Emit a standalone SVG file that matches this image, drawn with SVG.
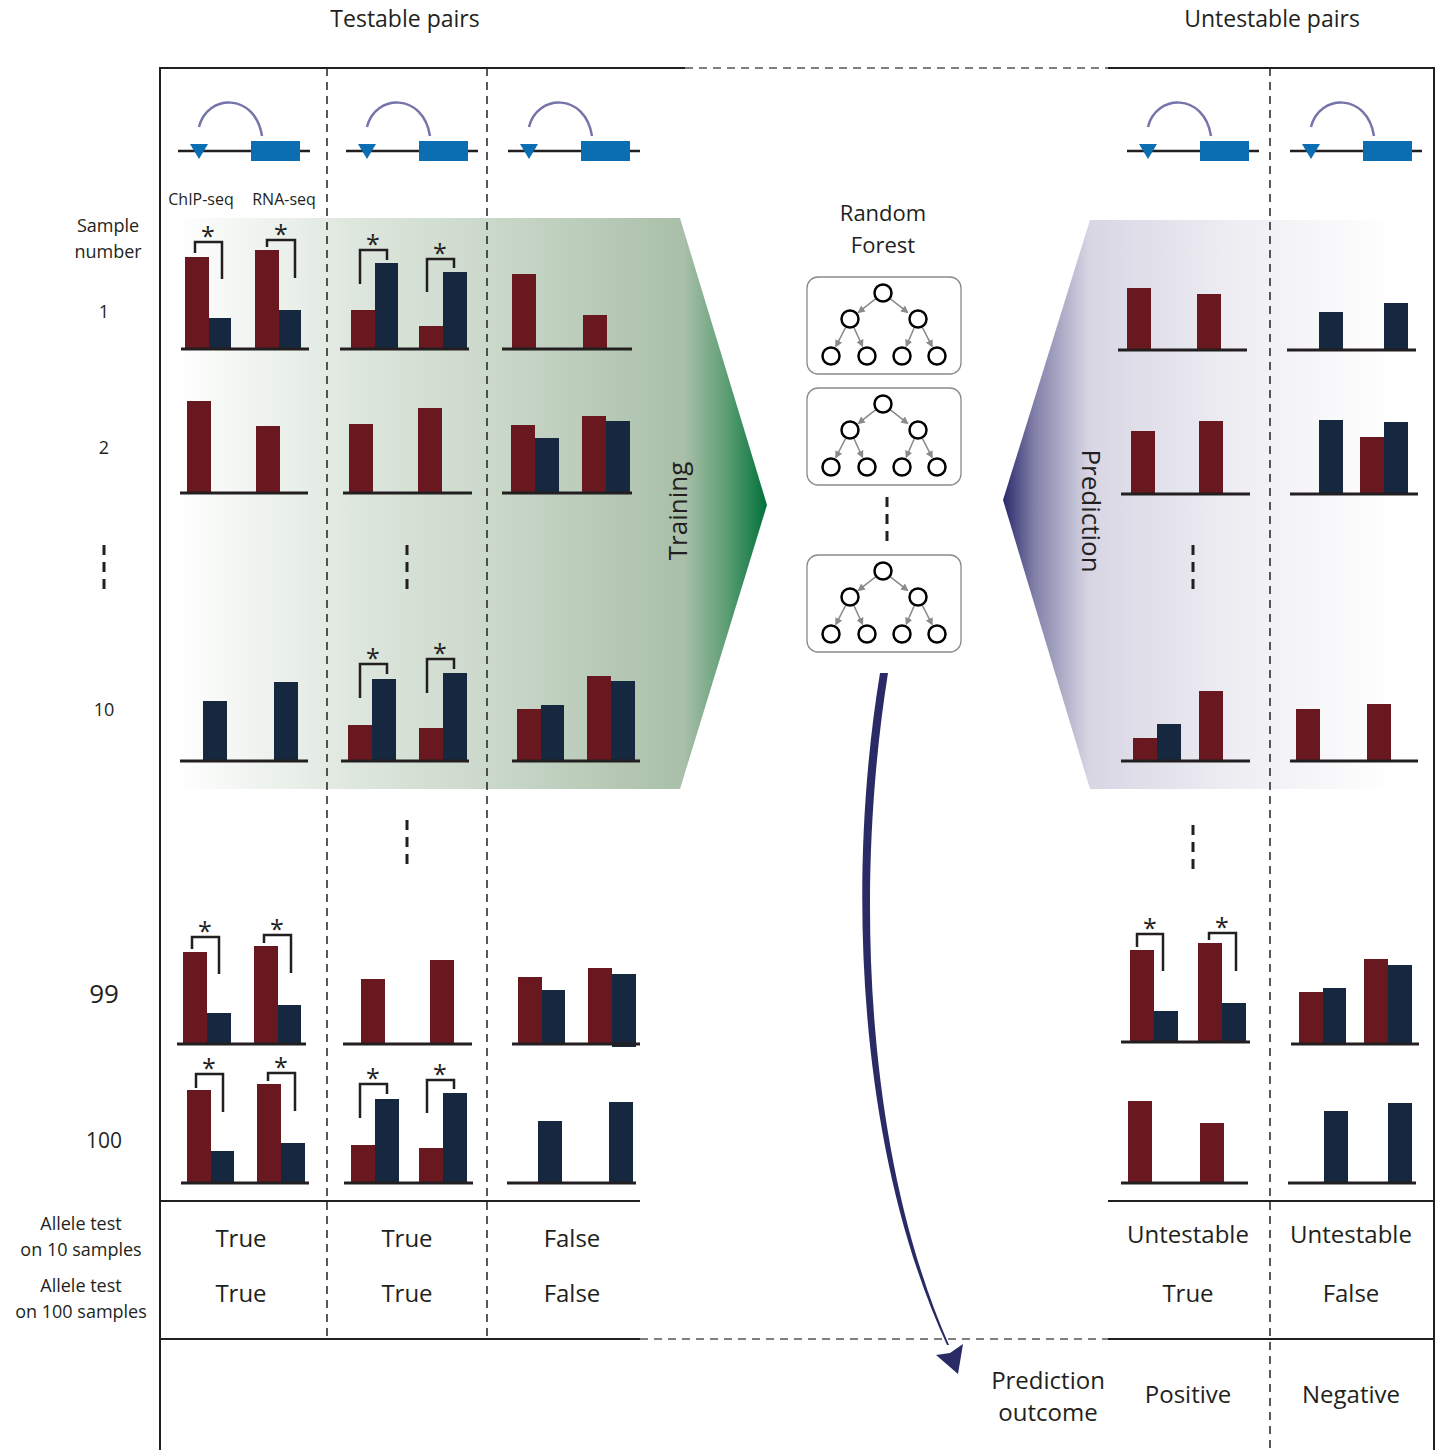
<svg xmlns="http://www.w3.org/2000/svg" xmlns:xlink="http://www.w3.org/1999/xlink" width="1439" height="1450" viewBox="0 0 1439 1450">
<style>
text{font-family:"Open Sans","Liberation Sans",sans-serif;fill:#231f20}
.t{text-anchor:middle}
.r{fill:#6a1820}
.n{fill:#15283f}
.b{stroke:#231f20;stroke-width:3;fill:none}
.k{fill:none;stroke:#231f20;stroke-width:2.5}
.s{font-size:25px;text-anchor:middle}
.fr{stroke:#231f20;stroke-width:2;fill:none}
.dv{stroke:#222;stroke-width:1.5;stroke-dasharray:8 6;fill:none}
.dh{stroke:#555;stroke-width:1.5;stroke-dasharray:8 6;fill:none}
.el{stroke:#231f20;stroke-width:3;stroke-dasharray:10 7;fill:none}
.lbl{font-size:24px;text-anchor:middle}
.sm{font-size:18px;text-anchor:middle}
.tn{fill:#fff;stroke:#000;stroke-width:2.5}
.ta{stroke:#8a8a8a;stroke-width:1.5;fill:none;marker-end:url(#ah)}
</style>
<defs>
<linearGradient id="gG" gradientUnits="userSpaceOnUse" x1="175" y1="0" x2="767" y2="0">
<stop offset="0" stop-color="#ffffff"/>
<stop offset="0.3" stop-color="#dee7de"/>
<stop offset="0.55" stop-color="#c9d7c9"/>
<stop offset="0.86" stop-color="#a9bfa9"/>
<stop offset="0.93" stop-color="#5f9f75"/>
<stop offset="1" stop-color="#00703a"/>
</linearGradient>
<linearGradient id="gP" gradientUnits="userSpaceOnUse" x1="1003" y1="0" x2="1395" y2="0">
<stop offset="0" stop-color="#2a2a6c"/>
<stop offset="0.08" stop-color="#8280a8"/>
<stop offset="0.22" stop-color="#d8d6e4"/>
<stop offset="0.6" stop-color="#eeeef3"/>
<stop offset="1" stop-color="#ffffff"/>
</linearGradient>
<marker id="ah" viewBox="0 0 10 10" refX="8" refY="5" markerWidth="5" markerHeight="5" orient="auto">
<path d="M0,0 L10,5 L0,10 z" fill="#8a8a8a"/>
</marker>
<g id="gene">
<path d="M21,-24 C29,-57 77,-59 84,-15" fill="none" stroke="#7574aa" stroke-width="2.5"/>
<line x1="0" y1="0" x2="132" y2="0" stroke="#231f20" stroke-width="2.5"/>
<polygon points="12,-7 30,-7 21,8" fill="#0b6eb3"/>
<rect x="73" y="-10" width="49" height="20" fill="#0b6eb3"/>
</g>
<g id="tree">
<rect x="0" y="0" width="154" height="97" rx="11" fill="#fff" stroke="#8a8a8a" stroke-width="1.3"/>
<line class="ta" x1="68.9" y1="21.6" x2="51.6" y2="35.2"/>
<line class="ta" x1="83.1" y1="21.6" x2="100.4" y2="35.2"/>
<line class="ta" x1="38.4" y1="50.9" x2="29" y2="69.2"/>
<line class="ta" x1="47.2" y1="51.1" x2="55.4" y2="69"/>
<line class="ta" x1="107" y1="51.2" x2="99.4" y2="68.9"/>
<line class="ta" x1="115.6" y1="50.9" x2="125" y2="69.2"/>
<circle class="tn" cx="76" cy="16" r="8.5"/>
<circle class="tn" cx="43" cy="42" r="8.5"/>
<circle class="tn" cx="111" cy="42" r="8.5"/>
<circle class="tn" cx="24" cy="79" r="8.5"/>
<circle class="tn" cx="60" cy="79" r="8.5"/>
<circle class="tn" cx="95" cy="79" r="8.5"/>
<circle class="tn" cx="130" cy="79" r="8.5"/>
</g>
</defs>
<rect width="1439" height="1450" fill="#fff"/>

<!-- background panels -->
<g id="training">
<polygon points="175,218 680,218 767,505 680,789 175,789" fill="url(#gG)"/>
<text transform="translate(687,511) rotate(-90)" class="t" font-size="26">Training</text>
</g>
<g id="prediction">
<polygon points="1090,220 1395,220 1395,789 1090,789 1003,500" fill="url(#gP)"/>
<text transform="translate(1082,511) rotate(90)" class="t" font-size="26">Prediction</text>
</g>

<!-- frame -->
<g id="frame">
<path class="fr" d="M160,1450 V68 H685"/>
<path class="fr" d="M1108,68 H1434 V1450"/>
<line class="dh" x1="685" y1="68" x2="1108" y2="68"/>
<path class="fr" d="M160,1201 H640 M1108,1201 H1434"/>
<path class="fr" d="M160,1339 H640 M1108,1339 H1434"/>
<line class="dh" x1="640" y1="1339" x2="1108" y2="1339"/>
<line class="dv" x1="327" y1="68" x2="327" y2="1339"/>
<line class="dv" x1="487" y1="68" x2="487" y2="1339"/>
<line class="dv" x1="1270" y1="68" x2="1270" y2="1450"/>
</g>

<!-- headers -->
<g id="headers">
<text x="405" y="27" class="t" font-size="23">Testable pairs</text>
<text x="1272" y="27" class="t" font-size="23">Untestable pairs</text>
<text x="201" y="205" class="t" font-size="16">ChIP-seq</text>
<text x="284" y="205" class="t" font-size="16">RNA-seq</text>
<text x="108" y="232" class="sm">Sample</text>
<text x="108" y="258" class="sm">number</text>
<text x="104" y="318" class="sm">1</text>
<text x="104" y="454" class="sm">2</text>
<line class="el" x1="104" y1="545" x2="104" y2="590"/>
<text x="104" y="716" class="sm" font-size="20">10</text>
<text x="104" y="1003" class="t" font-size="26">99</text>
<text x="104" y="1148" class="t" font-size="21">100</text>
</g>

<!-- gene diagrams -->
<g id="genes">
<use xlink:href="#gene" x="178" y="151"/>
<use xlink:href="#gene" x="346" y="151"/>
<use xlink:href="#gene" x="508" y="151"/>
<use xlink:href="#gene" x="1127" y="151"/>
<use xlink:href="#gene" x="1290" y="151"/>
</g>

<!-- random forest -->
<g id="forest">
<text x="883" y="221" class="t" font-size="22">Random</text>
<text x="883" y="253" class="t" font-size="22">Forest</text>
<use xlink:href="#tree" x="807" y="277"/>
<use xlink:href="#tree" x="807" y="388"/>
<line class="el" x1="887" y1="497" x2="887" y2="542"/>
<use xlink:href="#tree" x="807" y="555"/>
</g>

<!-- ellipses in columns -->
<g id="ellipses">
<line class="el" x1="407" y1="545" x2="407" y2="590"/>
<line class="el" x1="407" y1="820" x2="407" y2="864"/>
<line class="el" x1="1193" y1="545" x2="1193" y2="590"/>
<line class="el" x1="1193" y1="825" x2="1193" y2="869"/>
</g>

<!-- testable column 1 -->
<g id="t1-s1">
<rect class="r" x="185" y="257" width="24" height="92"/><rect class="n" x="209" y="318" width="22" height="31"/>
<rect class="r" x="255" y="250" width="24" height="99"/><rect class="n" x="279" y="310" width="22" height="39"/>
<line class="b" x1="181" y1="349" x2="309" y2="349"/>
<path class="k" d="M195,253 V242 H222 V279"/><text class="s" x="208" y="245">*</text>
<path class="k" d="M267,247 V240 H295 V278"/><text class="s" x="281" y="243">*</text>
</g>
<g id="t1-s2">
<rect class="r" x="187" y="401" width="24" height="92"/><rect class="r" x="256" y="426" width="24" height="67"/>
<line class="b" x1="180" y1="493" x2="308" y2="493"/>
</g>
<g id="t1-s10">
<rect class="n" x="203" y="701" width="24" height="60"/><rect class="n" x="274" y="682" width="24" height="79"/>
<line class="b" x1="180" y1="761" x2="308" y2="761"/>
</g>
<g id="t1-s99">
<rect class="r" x="183" y="952" width="24" height="92"/><rect class="n" x="207" y="1013" width="24" height="31"/>
<rect class="r" x="254" y="946" width="24" height="98"/><rect class="n" x="278" y="1005" width="23" height="39"/>
<line class="b" x1="177" y1="1044" x2="306" y2="1044"/>
<path class="k" d="M192,949 V937 H219 V974"/><text class="s" x="205" y="940">*</text>
<path class="k" d="M264,943 V935 H291 V973"/><text class="s" x="277" y="938">*</text>
</g>
<g id="t1-s100">
<rect class="r" x="187" y="1090" width="24" height="93"/><rect class="n" x="211" y="1151" width="23" height="32"/>
<rect class="r" x="257" y="1084" width="24" height="99"/><rect class="n" x="281" y="1143" width="24" height="40"/>
<line class="b" x1="181" y1="1183" x2="309" y2="1183"/>
<path class="k" d="M196,1088 V1074 H223 V1112"/><text class="s" x="209" y="1077">*</text>
<path class="k" d="M268,1081 V1073 H295 V1111"/><text class="s" x="281" y="1076">*</text>
</g>

<!-- testable column 2 -->
<g id="t2-s1">
<rect class="r" x="351" y="310" width="24" height="39"/><rect class="n" x="375" y="263" width="23" height="86"/>
<rect class="r" x="419" y="326" width="24" height="23"/><rect class="n" x="443" y="272" width="24" height="77"/>
<line class="b" x1="340" y1="349" x2="469" y2="349"/>
<path class="k" d="M360,284 V250 H387 V260"/><text class="s" x="373" y="253">*</text>
<path class="k" d="M427,292 V259 H454 V268"/><text class="s" x="440" y="262">*</text>
</g>
<g id="t2-s2">
<rect class="r" x="349" y="424" width="24" height="69"/><rect class="r" x="418" y="408" width="24" height="85"/>
<line class="b" x1="343" y1="493" x2="472" y2="493"/>
</g>
<g id="t2-s10">
<rect class="r" x="348" y="725" width="24" height="36"/><rect class="n" x="372" y="679" width="24" height="82"/>
<rect class="r" x="419" y="728" width="24" height="33"/><rect class="n" x="443" y="673" width="24" height="88"/>
<line class="b" x1="341" y1="761" x2="469" y2="761"/>
<path class="k" d="M360,698 V664 H387 V674"/><text class="s" x="373" y="667">*</text>
<path class="k" d="M427,693 V659 H454 V669"/><text class="s" x="440" y="662">*</text>
</g>
<g id="t2-s99">
<rect class="r" x="361" y="979" width="24" height="65"/><rect class="r" x="430" y="960" width="24" height="84"/>
<line class="b" x1="343" y1="1044" x2="472" y2="1044"/>
</g>
<g id="t2-s100">
<rect class="r" x="351" y="1145" width="24" height="38"/><rect class="n" x="375" y="1099" width="24" height="84"/>
<rect class="r" x="419" y="1148" width="24" height="35"/><rect class="n" x="443" y="1093" width="24" height="90"/>
<line class="b" x1="344" y1="1183" x2="473" y2="1183"/>
<path class="k" d="M360,1118 V1084 H387 V1094"/><text class="s" x="373" y="1087">*</text>
<path class="k" d="M427,1113 V1080 H454 V1089"/><text class="s" x="440" y="1083">*</text>
</g>

<!-- testable column 3 -->
<g id="t3-s1">
<rect class="r" x="512" y="274" width="24" height="75"/><rect class="r" x="583" y="315" width="24" height="34"/>
<line class="b" x1="502" y1="349" x2="632" y2="349"/>
</g>
<g id="t3-s2">
<rect class="r" x="511" y="425" width="24" height="68"/><rect class="n" x="535" y="438" width="24" height="55"/>
<rect class="r" x="582" y="416" width="24" height="77"/><rect class="n" x="606" y="421" width="24" height="72"/>
<line class="b" x1="502" y1="493" x2="632" y2="493"/>
</g>
<g id="t3-s10">
<rect class="r" x="517" y="709" width="24" height="52"/><rect class="n" x="541" y="705" width="23" height="56"/>
<rect class="r" x="587" y="676" width="24" height="85"/><rect class="n" x="611" y="681" width="24" height="80"/>
<line class="b" x1="512" y1="761" x2="640" y2="761"/>
</g>
<g id="t3-s99">
<rect class="r" x="518" y="977" width="24" height="67"/><rect class="n" x="542" y="990" width="23" height="54"/>
<rect class="r" x="588" y="968" width="24" height="76"/><rect class="n" x="612" y="974" width="24" height="73"/>
<line class="b" x1="512" y1="1044" x2="640" y2="1044"/>
</g>
<g id="t3-s100">
<rect class="n" x="538" y="1121" width="24" height="62"/><rect class="n" x="609" y="1102" width="24" height="81"/>
<line class="b" x1="507" y1="1183" x2="636" y2="1183"/>
</g>

<!-- untestable column 1 -->
<g id="u1-s1">
<rect class="r" x="1127" y="288" width="24" height="62"/><rect class="r" x="1197" y="294" width="24" height="56"/>
<line class="b" x1="1118" y1="350" x2="1247" y2="350"/>
</g>
<g id="u1-s2">
<rect class="r" x="1131" y="431" width="24" height="63"/><rect class="r" x="1199" y="421" width="24" height="73"/>
<line class="b" x1="1121" y1="494" x2="1250" y2="494"/>
</g>
<g id="u1-s10">
<rect class="r" x="1133" y="738" width="24" height="23"/><rect class="n" x="1157" y="724" width="24" height="37"/>
<rect class="r" x="1199" y="691" width="24" height="70"/>
<line class="b" x1="1121" y1="761" x2="1250" y2="761"/>
</g>
<g id="u1-s99">
<rect class="r" x="1130" y="950" width="24" height="92"/><rect class="n" x="1154" y="1011" width="24" height="31"/>
<rect class="r" x="1198" y="943" width="24" height="99"/><rect class="n" x="1222" y="1003" width="24" height="39"/>
<line class="b" x1="1121" y1="1042" x2="1250" y2="1042"/>
<path class="k" d="M1137,947 V934 H1163 V971"/><text class="s" x="1150" y="937">*</text>
<path class="k" d="M1209,940 V933 H1236 V971"/><text class="s" x="1222" y="936">*</text>
</g>
<g id="u1-s100">
<rect class="r" x="1128" y="1101" width="24" height="82"/><rect class="r" x="1200" y="1123" width="24" height="60"/>
<line class="b" x1="1121" y1="1183" x2="1248" y2="1183"/>
</g>

<!-- untestable column 2 -->
<g id="u2-s1">
<rect class="n" x="1319" y="312" width="24" height="38"/><rect class="n" x="1384" y="303" width="24" height="47"/>
<line class="b" x1="1287" y1="350" x2="1416" y2="350"/>
</g>
<g id="u2-s2">
<rect class="n" x="1319" y="420" width="24" height="74"/><rect class="r" x="1360" y="437" width="24" height="57"/>
<rect class="n" x="1384" y="422" width="24" height="72"/>
<line class="b" x1="1290" y1="494" x2="1418" y2="494"/>
</g>
<g id="u2-s10">
<rect class="r" x="1296" y="709" width="24" height="52"/><rect class="r" x="1367" y="704" width="24" height="57"/>
<line class="b" x1="1290" y1="761" x2="1418" y2="761"/>
</g>
<g id="u2-s99">
<rect class="r" x="1299" y="992" width="24" height="52"/><rect class="n" x="1323" y="988" width="23" height="56"/>
<rect class="r" x="1364" y="959" width="24" height="85"/><rect class="n" x="1388" y="965" width="24" height="79"/>
<line class="b" x1="1291" y1="1044" x2="1419" y2="1044"/>
</g>
<g id="u2-s100">
<rect class="n" x="1324" y="1111" width="24" height="72"/><rect class="n" x="1388" y="1103" width="24" height="80"/>
<line class="b" x1="1288" y1="1183" x2="1416" y2="1183"/>
</g>

<!-- connector: prediction arrow -->
<g id="connectors">
<path d="M880,673 C846,880 857,1150 947,1345 L949,1345 C863,1150 855,880 888,673 Z" fill="#2a2a66"/>
<polygon points="958,1374 936,1355 950,1353 963,1344" fill="#2a2a66"/>
</g>

<!-- bottom table -->
<g id="results">
<text x="81" y="1230" class="sm">Allele test</text>
<text x="81" y="1256" class="sm">on 10 samples</text>
<text x="81" y="1292" class="sm">Allele test</text>
<text x="81" y="1318" class="sm">on 100 samples</text>
<text x="241" y="1247" class="lbl">True</text>
<text x="241" y="1302" class="lbl">True</text>
<text x="407" y="1247" class="lbl">True</text>
<text x="407" y="1302" class="lbl">True</text>
<text x="572" y="1247" class="lbl">False</text>
<text x="572" y="1302" class="lbl">False</text>
<text x="1188" y="1243" class="lbl">Untestable</text>
<text x="1188" y="1302" class="lbl">True</text>
<text x="1351" y="1243" class="lbl">Untestable</text>
<text x="1351" y="1302" class="lbl">False</text>
<text x="1048" y="1389" class="lbl">Prediction</text>
<text x="1048" y="1421" class="lbl">outcome</text>
<text x="1188" y="1403" class="lbl">Positive</text>
<text x="1351" y="1403" class="lbl">Negative</text>
</g>
</svg>
